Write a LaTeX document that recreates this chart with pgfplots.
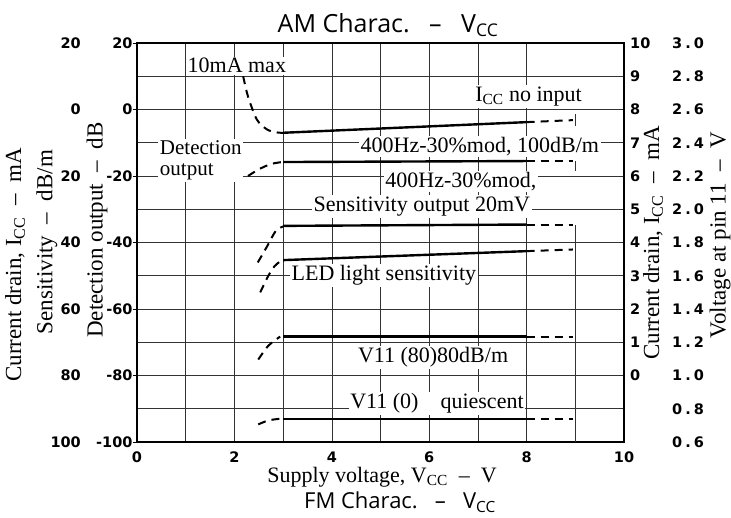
\documentclass[border=0pt]{standalone}
\usepackage{pgfplots}
\pgfplotsset{compat=1.18}
\usepackage{fontspec}
\setmainfont{Liberation Serif}
\newfontfamily\sansf{DejaVu Sans}
\newfontfamily\titlef{Open Sans}
\newcommand{\tk}{\sansf\bfseries\fontsize{14.5}{15}\selectfont}
\begin{document}
\begin{tikzpicture}
\path[use as bounding box] (-137pt,-75pt) rectangle (594pt,442pt);
\begin{axis}[
  at={(0pt,0pt)}, anchor=south west,
  scale only axis, width=487pt, height=399pt,
  xmin=0, xmax=10, ymin=-100, ymax=20,
  axis line style={line width=1.3pt},
  xtick={0,2,4,6,8,10},
  minor xtick={1,3,5,7},
  ytick={-100,-80,-60,-40,-20,0,20},
  minor ytick={-90,-70,-50,-30,-10,10},
  yticklabels={-100,-80,-60,-40,-20,0,20},
  xticklabels={0,2,4,6,8,10},
  ytick pos=left, xtick pos=bottom,
  tick align=outside,
  major tick length=4pt, minor tick length=0pt,
  x tick style={draw=none},
  y tick style={line width=0.8pt, black},
  xticklabel style={font=\tk, yshift=-2pt},
  yticklabel style={font=\tk, xshift=3pt},
  grid=both,
  major grid style={black!80, line width=0.6pt},
  minor grid style={black!80, line width=0.6pt},
  clip=false,
]
% partial grid line at x=9
\draw[black!80, line width=0.6pt] (axis cs:9,-100) -- (axis cs:9,-34.6);
\draw[black!80, line width=0.6pt] (axis cs:9,-15.5) -- (axis cs:9,-18.5);
\draw[black!80, line width=0.6pt] (axis cs:9,-1.5) -- (axis cs:9,-5.0);

% --- curves ---
\pgfplotsset{dsh/.style={black, line width=2pt, dash pattern=on 8pt off 6pt},
             sld/.style={black, line width=2.4pt}}
% Icc no input
\addplot[dsh, smooth] coordinates {(2.18,10) (2.28,3.9) (2.46,-3) (2.67,-6) (2.87,-6.9) (3,-7.0)};
\addplot[sld] coordinates {(3,-7.0) (8,-3.8)};
\addplot[dsh] coordinates {(8,-3.8) (8.95,-3.2)};
% 400Hz 100dB/m
\addplot[dsh, smooth] coordinates {(2.28,-20) (2.5,-18) (2.75,-16.4) (2.98,-15.8)};
\addplot[sld] coordinates {(3,-15.8) (8,-15.5)};
\addplot[dsh] coordinates {(8,-15.5) (8.95,-15.5)};
% sensitivity output 20mV
\addplot[dsh, smooth] coordinates {(2.48,-46) (2.67,-41.2) (2.85,-36.5) (3,-35.2)};
\addplot[sld] coordinates {(3,-35.0) (8,-34.6)};
\addplot[dsh] coordinates {(8,-34.6) (8.95,-34.6)};
% LED light sensitivity
\addplot[dsh, smooth] coordinates {(2.53,-55) (2.69,-50.2) (2.82,-47.2) (2.94,-45.7) (3,-45.4)};
\addplot[sld] coordinates {(3,-45.3) (8,-42.6)};
\addplot[dsh] coordinates {(8,-42.6) (8.95,-42.1)};
% V11 (80)
\addplot[dsh, smooth] coordinates {(2.49,-75.2) (2.7,-71) (2.94,-68.3)};
\addplot[sld] coordinates {(3,-68.3) (8,-68.3)};
\addplot[dsh] coordinates {(8,-68.3) (8.95,-68.3)};
% V11 (0)
\addplot[dsh, smooth] coordinates {(2.49,-94.7) (2.7,-93.5) (2.94,-93.0)};
\addplot[sld] coordinates {(3,-93.0) (8,-93.0)};
\addplot[dsh] coordinates {(8,-93.0) (8.95,-93.0)};

% --- annotations ---
\tikzset{ann/.style={fill=white, inner sep=1.5pt, font=\fontsize{22}{23}\selectfont}}
\node[ann] at (axis cs:2.05,13.2) {10mA max};
\node[ann] at (axis cs:8.04,3.9) {I\textsubscript{CC} no input};
\node[ann] at (axis cs:7.04,-11.1) {400Hz-30\%mod, 100dB/m};
\node[ann] at (axis cs:6.65,-21.7) {400Hz-30\%mod,};
\node[ann] at (axis cs:5.85,-29.2) {Sensitivity output 20mV};
\node[ann] at (axis cs:5.07,-49.9) {LED light sensitivity};
\node[ann] at (axis cs:6.08,-74.6) {V11 (80)80dB/m};
\node[ann] at (axis cs:6.16,-88.4) {V11 (0)\quad quiescent};
\node[ann, align=left, font=\fontsize{21}{21}\selectfont] at (axis cs:1.31,-15.3) {Detection\\output};
\end{axis}
% outer left labels
\foreach \y/\t in {20/20, 0/0, -20/20, -40/40, -60/60, -80/80, -100/100}{
  \node[anchor=east, font=\tk, inner sep=0pt] at (-56pt,{(\y+100)*3.325pt}) {\t};
}
% right labels (mA)
\foreach \y/\t in {20/10, 10/9, 0/8, -10/7, -20/6, -30/5, -40/4, -50/3, -60/2, -70/1, -80/0}{
  \node[anchor=west, font=\tk, inner sep=0pt] at (493pt,{(\y+100)*3.325pt}) {\t};
}
% right labels (V)
\foreach \y/\a/\b in {20/3/0, 10/2/8, 0/2/6, -10/2/4, -20/2/2, -30/2/0, -40/1/8, -50/1/6, -60/1/4, -70/1/2, -80/1/0, -90/0/8, -100/0/6}{
  \node[anchor=west, font=\tk, inner sep=0pt] at (535pt,{(\y+100)*3.325pt}) {\a\kern3pt.\kern3pt\b};
}
% axis titles
\tikzset{lab/.style={font=\fontsize{23}{24}\selectfont, inner sep=0pt}}
\node[lab, rotate=90] at (-122pt,177pt) {Current drain, I\textsubscript{CC}~~–~~mA};
\node[lab, rotate=90] at (-90pt,200pt) {Sensitivity~~–~~dB/m};
\node[lab, rotate=90] at (-40pt,212pt) {Detection output~~–~~dB};
\node[lab, rotate=90] at (516pt,199pt) {Current drain, I\textsubscript{CC}~~–~~mA};
\node[lab, rotate=90] at (583pt,207pt) {Voltage at pin 11~~–~~V};
\node[font=\fontsize{22}{23}\selectfont, inner sep=0pt] at (245pt,-35pt) {Supply voltage, V\textsubscript{CC}~~–~~V};
\node[font=\titlef\fontsize{25}{26}\selectfont, inner sep=0pt] at (251pt,417pt) {AM Charac.~~~–~~~V\textsubscript{CC}};
\node[font=\titlef\fontsize{22}{23}\selectfont, inner sep=0pt, anchor=base] at (263pt,-66.5pt) {FM Charac.~~~–~~~V\textsubscript{CC}};
\end{tikzpicture}
\end{document}
